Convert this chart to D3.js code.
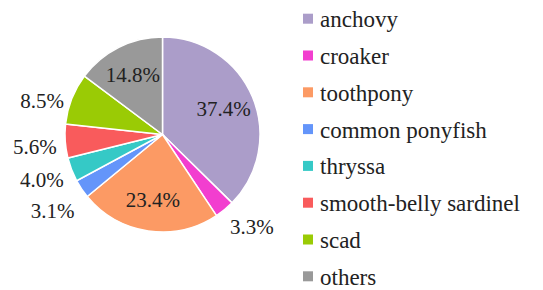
<!DOCTYPE html>
<html>
<head>
<meta charset="utf-8">
<script src="https://cdn.jsdelivr.net/npm/d3@7/dist/d3.min.js"></script>
<style>
    html, body { margin: 0; padding: 0; background: #fff; }
</style>
</head>
<body>
<script>
// Data
const species = ["anchovy", "croaker", "toothpony", "common ponyfish", "thryssa", "smooth-belly sardinel", "scad", "others"];
const shares = [37.4, 3.3, 23.4, 3.1, 4.0, 5.6, 8.5, 14.8];
const colors = ["#ab9dc9", "#f23ecf", "#fc9a64", "#6495fa", "#35c9c6", "#f95b5c", "#9acb05", "#999999"];
// which labels sit inside the slice
const insideLabel = [true, false, true, false, false, false, false, true];

const width = 543, height = 290;
const cx = 162.5, cy = 134.5, radius = 97.5;
const serif = '"Tinos", "Times New Roman", "Liberation Serif", serif';

const svg = d3.select('body')
    .append('svg')
    .attr('width', width)
    .attr('height', height);

const color = d3.scaleOrdinal().domain(species).range(colors);

const pie = d3.pie().sort(null).value(d => d.value);
const data = species.map((s, i) => ({ name: s, value: shares[i], inside: insideLabel[i] }));
const arcs = pie(data);

const arc = d3.arc().innerRadius(0).outerRadius(radius);
const inArc = d3.arc().innerRadius(radius * 0.68).outerRadius(radius * 0.68);

const g = svg.append('g').attr('transform', `translate(${cx},${cy})`);

g.selectAll('path')
    .data(arcs)
    .join('path')
    .attr('d', arc)
    .attr('fill', d => color(d.data.name))
    .attr('stroke', '#fff')
    .attr('stroke-width', 1.5);

// inside labels
g.selectAll('text.in')
    .data(arcs.filter(d => d.data.inside))
    .join('text')
    .attr('class', 'in')
    .attr('x', d => inArc.centroid(d)[0])
    .attr('y', d => inArc.centroid(d)[1] + 7)
    .attr('text-anchor', 'middle')
    .style('font-family', serif)
    .style('font-size', '21px')
    .style('fill', '#222')
    .text(d => d.data.value.toFixed(1) + '%');

// outside labels, placed just beyond the rim and pushed apart on the left side
const outR = radius + 8.5;
const outside = arcs.filter(d => !d.data.inside).map(d => {
    const a = (d.startAngle + d.endAngle) / 2;
    return {
        d: d,
        left: Math.sin(a) < 0,
        x: Math.sin(a) * outR,
        y: -Math.cos(a) * outR + 5 + 7 * Math.max(0, -Math.cos(a))
    };
});
const leftSide = outside.filter(o => o.left).sort((a, b) => a.y - b.y);
for (let i = 1; i < leftSide.length; i++) {
    if (leftSide[i].y - leftSide[i - 1].y < 31) leftSide[i].y = leftSide[i - 1].y + 31;
}

g.selectAll('text.out')
    .data(outside)
    .join('text')
    .attr('class', 'out')
    .attr('x', o => o.x)
    .attr('y', o => o.y + 7)
    .attr('text-anchor', o => o.left ? 'end' : 'start')
    .style('font-family', serif)
    .style('font-size', '21px')
    .style('fill', '#222')
    .text(o => o.d.data.value.toFixed(1) + '%');

// legend
const legendY = d3.scalePoint().domain(species).range([18.7, 18.7 + 36.8 * 7]);

const item = svg.append('g')
    .selectAll('g')
    .data(species)
    .join('g')
    .attr('transform', d => `translate(303,${legendY(d)})`);

item.append('rect')
    .attr('x', 0)
    .attr('y', -5)
    .attr('width', 10)
    .attr('height', 10)
    .attr('fill', d => color(d));

item.append('text')
    .attr('x', 17)
    .attr('y', 8.5)
    .style('font-family', serif)
    .style('font-size', '23px')
    .style('fill', '#222')
    .text(d => d);
</script>
</body>
</html>
